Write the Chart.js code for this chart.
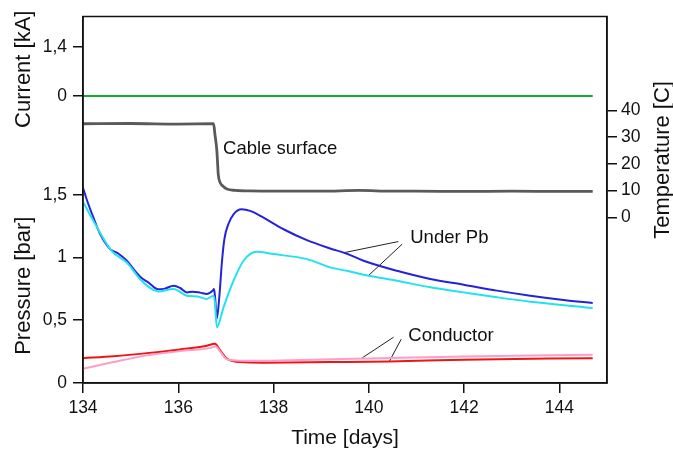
<!DOCTYPE html>
<html lang="en">
<head>
    <meta charset="UTF-8">
    <title>Cable pressure and temperature</title>
    <script src="https://cdn.jsdelivr.net/npm/chart.js@4/dist/chart.umd.min.js"></script>
    <style>
        body { margin: 0; background: #fff; }
        #wrap { width: 673px; height: 453px; }
    </style>
</head>
<body>
    <div id="wrap"><canvas id="cableChart"></canvas></div>

    <script>
        // ticks
        const dayTicks = [134, 136, 138, 140, 142, 144];
        const pressureTicks = [0, 0.5, 1, 1.5];
        const currentTicks = [0, 1.4];
        const tempTicks = [0, 10, 20, 30, 40];

        // axis ranges
        const dayRange = [134, 145];
        const pressureRange = [0, 2.92];
        const currentRange = [-8.17, 2.26];
        const tempRange = [-61.9, 75.1];

        // current [kA]
        const currentDays = [134, 144.7];
        const currentValues = [0, 0];

        // cable surface temperature [C]
        const tempDays = [134, 135, 136, 136.74, 136.77, 136.81, 136.84, 136.88, 136.93, 137.02, 137.2, 137.5, 138, 139, 139.8, 140.5, 141, 142, 143, 144, 144.7];
        const tempValues = [35, 35.1, 34.9, 35, 31, 25, 16, 13, 11.8, 10.6, 10.1, 9.9, 9.8, 9.8, 10.1, 9.8, 9.8, 9.7, 9.8, 9.7, 9.7];

        // under Pb pressures [bar]
        const underPb1Days = [134.0, 134.08, 134.22, 134.36, 134.57, 134.74, 134.92, 135.09, 135.23, 135.37, 135.58, 135.72, 135.9, 136.04, 136.18, 136.3, 136.46, 136.6, 136.72, 136.75, 136.77, 136.81, 136.86, 136.92, 136.97, 137.05, 137.16, 137.33, 137.51, 137.79, 138.21, 138.7, 139.19, 139.54, 139.89, 140.59, 141.29, 141.99, 142.69, 143.39, 144.09, 144.7];
        const underPb1Values = [1.556, 1.46, 1.317, 1.186, 1.067, 1.032, 0.974, 0.894, 0.836, 0.802, 0.746, 0.752, 0.775, 0.757, 0.722, 0.728, 0.72, 0.71, 0.735, 0.749, 0.696, 0.515, 0.68, 0.98, 1.15, 1.265, 1.344, 1.384, 1.371, 1.317, 1.225, 1.138, 1.072, 1.03, 0.974, 0.894, 0.829, 0.783, 0.736, 0.696, 0.662, 0.638];
        const underPb2Days = [134.0, 134.22, 134.6, 134.92, 135.23, 135.58, 135.9, 136.18, 136.4, 136.6, 136.74, 136.77, 136.81, 136.95, 137.16, 137.37, 137.65, 138.0, 138.7, 139.19, 139.54, 140.0, 140.59, 141.29, 141.99, 142.69, 143.39, 144.7];
        const underPb2Values = [1.444, 1.291, 1.053, 0.96, 0.815, 0.73, 0.749, 0.696, 0.69, 0.67, 0.696, 0.64, 0.444, 0.603, 0.815, 0.974, 1.045, 1.027, 0.987, 0.921, 0.894, 0.855, 0.815, 0.762, 0.722, 0.683, 0.648, 0.598];

        // conductor pressures [bar]
        const cond1Days = [134.0, 134.64, 135.34, 136.04, 136.6, 136.77, 136.88, 137.02, 137.3, 137.79, 139.19, 140.43, 141.99, 144.7];
        const cond1Values = [0.198, 0.214, 0.238, 0.267, 0.297, 0.313, 0.26, 0.194, 0.167, 0.162, 0.167, 0.172, 0.186, 0.198];
        const cond2Days = [134.0, 134.64, 135.34, 136.04, 136.74, 136.78, 136.88, 137.02, 137.3, 137.79, 139, 140, 142, 144.7];
        const cond2Values = [0.114, 0.167, 0.22, 0.254, 0.286, 0.292, 0.25, 0.19, 0.178, 0.178, 0.188, 0.196, 0.212, 0.225];

        // label leaders [days, bar]
        const underPbLeaders = [[[140.62, 1.127], [139.50, 1.04]], [[140.70, 1.106], [139.99, 0.855]]];
        const conductorLeaders = [[[140.52, 0.365], [139.86, 0.2]], [[140.68, 0.349], [140.43, 0.172]]];

        const FONT = "'Liberation Sans', Arial, sans-serif";
        const INK = '#111';

        const zip = (xs, ys) => xs.map((x, i) => ({ x: x, y: ys[i] }));
        const fmt = v => String(v).replace('.', ',');

        function line(data, color, axis, width) {
            return {
                data: data,
                borderColor: color,
                borderWidth: width || 2,
                pointRadius: 0,
                fill: false,
                cubicInterpolationMode: 'monotone',
                yAxisID: axis
            };
        }

        const datasets = [
            line(zip(currentDays, currentValues), '#12a83a', 'yC'),
            line(zip(tempDays, tempValues), '#5a5a5a', 'yT', 2.8),
            line(zip(cond2Days, cond2Values), '#ff9cc8', 'yP'),
            line(zip(cond1Days, cond1Values), '#ee1515', 'yP'),
            line(zip(underPb2Days, underPb2Values), '#22e2f0', 'yP'),
            line(zip(underPb1Days, underPb1Values), '#2323dc', 'yP')
        ];
        underPbLeaders.concat(conductorLeaders).forEach(l => {
            const ds = line(l.map(p => ({ x: p[0], y: p[1] })), '#222', 'yP', 1);
            ds.cubicInterpolationMode = 'default';
            datasets.push(ds);
        });

        // texts drawn on the chart: [text, day, value, axis]
        const notes = [
            ['Cable surface', 136.94, 25.5, 'yT'],
            ['Under Pb', 140.87, 1.159, 'yP'],
            ['Conductor', 140.83, 0.379, 'yP']
        ];

        const extras = {
            id: 'extras',
            afterDraw(chart) {
                const ctx = chart.ctx;
                const a = chart.chartArea;
                const s = chart.scales;
                ctx.save();
                ctx.strokeStyle = INK;
                ctx.lineWidth = 1.5;
                ctx.strokeRect(a.left, a.top, a.right - a.left, a.bottom - a.top);

                ctx.fillStyle = INK;
                ctx.textBaseline = 'middle';
                ctx.font = '18.5px ' + FONT;
                ctx.textAlign = 'left';
                notes.forEach(n => {
                    ctx.fillText(n[0], s.x.getPixelForValue(n[1]), s[n[3]].getPixelForValue(n[2]));
                });

                ctx.font = '22px ' + FONT;
                ctx.textAlign = 'center';
                const vTitle = (text, x, y) => {
                    ctx.save();
                    ctx.translate(x, y);
                    ctx.rotate(-Math.PI / 2);
                    ctx.fillText(text, 0, 0);
                    ctx.restore();
                };
                vTitle('Current [kA]', a.left - 59, s.yC.getPixelForValue(0.76));
                vTitle('Pressure [bar]', a.left - 59, s.yP.getPixelForValue(0.775));
                vTitle('Temperature [C]', a.right + 56, s.yT.getPixelForValue(21.5));
                ctx.restore();
            }
        };

        const tickFont = { family: FONT, size: 17.5 };
        const axisGrid = { drawOnChartArea: false, color: INK, tickLength: 10, lineWidth: 1.5 };
        const axisBorder = { color: INK, width: 1.5 };

        new Chart(document.getElementById('cableChart'), {
            type: 'line',
            data: { datasets: datasets },
            options: {
                responsive: true,
                maintainAspectRatio: false,
                devicePixelRatio: 1,
                animation: false,
                layout: { padding: { top: 15, left: 0, right: 0, bottom: 0 } },
                plugins: { legend: { display: false }, tooltip: { enabled: false } },
                scales: {
                    x: {
                        type: 'linear',
                        min: dayRange[0],
                        max: dayRange[1],
                        afterBuildTicks: sc => { sc.ticks = dayTicks.map(v => ({ value: v })); },
                        afterFit: sc => { sc.height = 70; },
                        ticks: { font: tickFont, color: INK, padding: 5, autoSkip: false, maxRotation: 0 },
                        grid: axisGrid,
                        border: axisBorder,
                        title: { display: true, text: 'Time [days]', font: { family: FONT, size: 21 }, color: INK, padding: { top: 0, bottom: 2 } }
                    },
                    yP: {
                        position: 'left',
                        min: pressureRange[0],
                        max: pressureRange[1],
                        afterBuildTicks: sc => {
                            const toP = c => pressureRange[0] + (c - currentRange[0]) / (currentRange[1] - currentRange[0]) * (pressureRange[1] - pressureRange[0]);
                            sc.ticks = pressureTicks.map(v => ({ value: v, txt: fmt(v) }))
                                .concat(currentTicks.map(c => ({ value: toP(c), txt: fmt(c) })));
                        },
                        afterFit: sc => { sc.width = 83; },
                        ticks: { font: tickFont, color: INK, padding: 6, autoSkip: false, callback: (v, i, t) => t[i].txt },
                        grid: axisGrid,
                        border: axisBorder
                    },
                    yC: {
                        display: false,
                        min: currentRange[0],
                        max: currentRange[1]
                    },
                    yT: {
                        position: 'right',
                        min: tempRange[0],
                        max: tempRange[1],
                        afterBuildTicks: sc => { sc.ticks = tempTicks.map(v => ({ value: v })); },
                        afterFit: sc => { sc.width = 66; },
                        ticks: { font: tickFont, color: INK, padding: 4, autoSkip: false },
                        grid: axisGrid,
                        border: axisBorder
                    }
                }
            },
            plugins: [extras]
        });
    </script>
</body>
</html>
